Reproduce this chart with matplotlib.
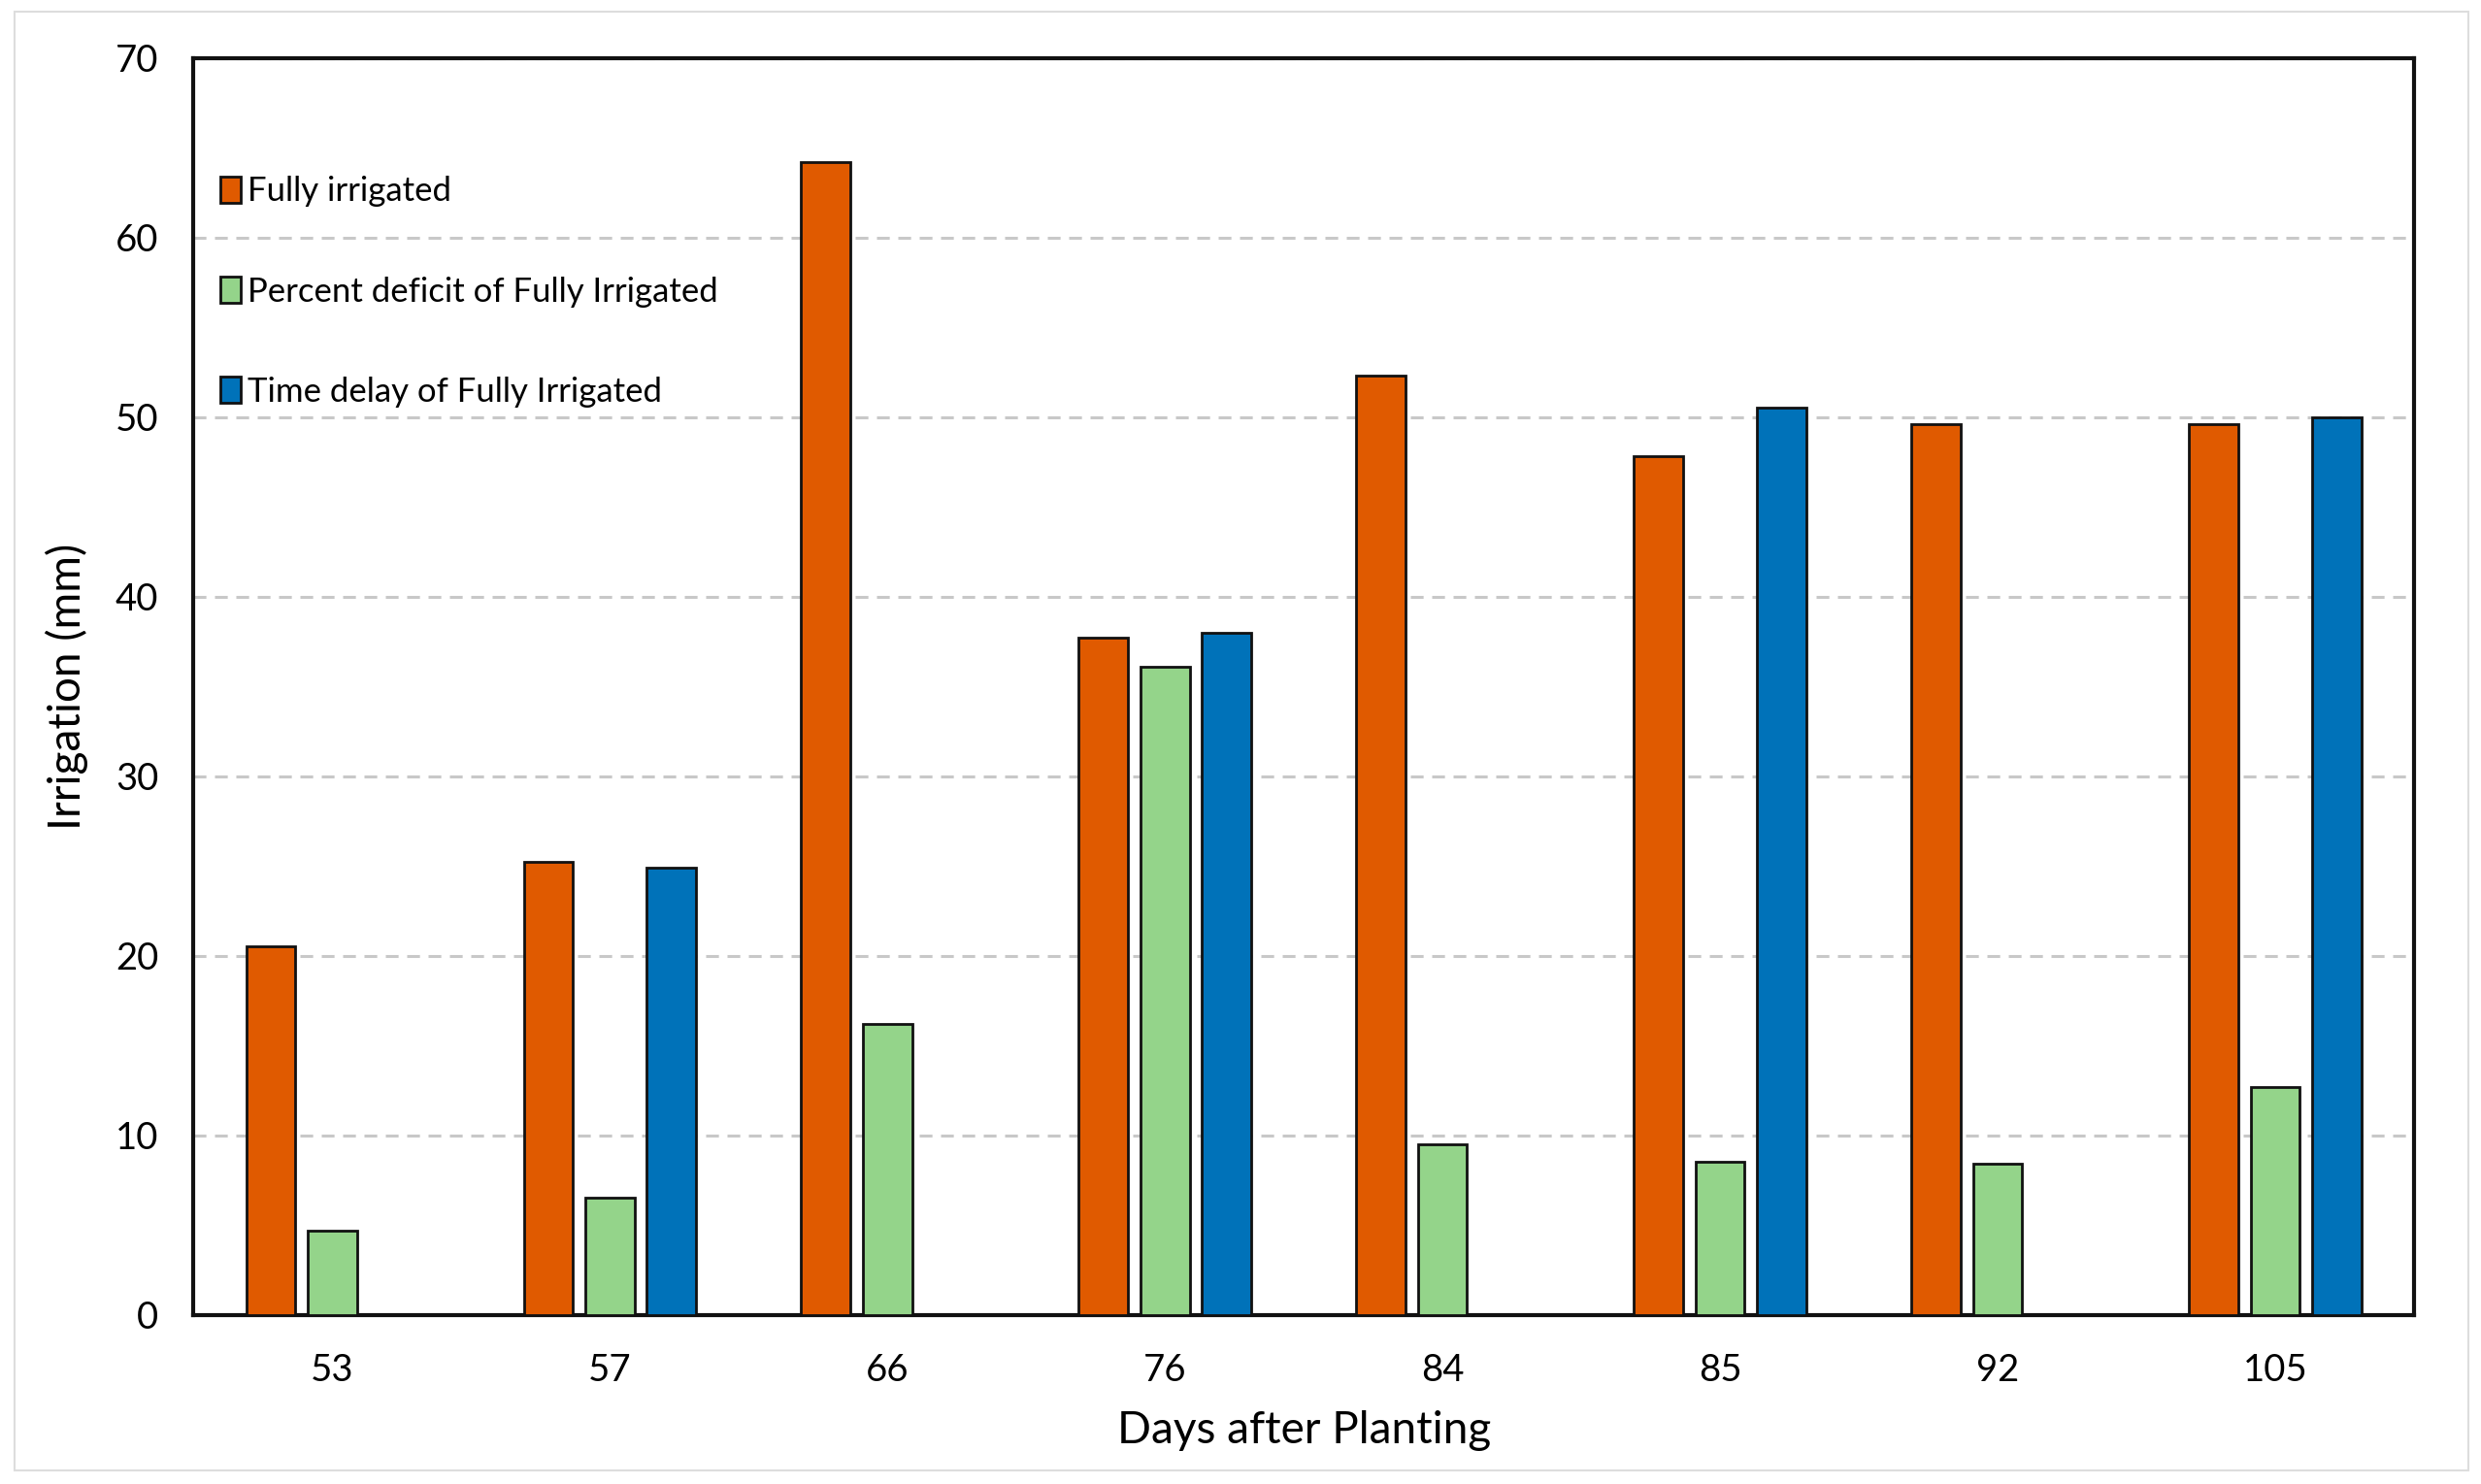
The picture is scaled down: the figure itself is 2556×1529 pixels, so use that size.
import numpy as np
import matplotlib.pyplot as plt
from matplotlib.patches import Rectangle

plt.rcParams['font.family'] = ['Lato', 'DejaVu Sans']

# Data
days = ['53', '57', '66', '76', '84', '85', '92', '105']
fully_irrigated = [20.5, 25.2, 64.2, 37.7, 52.3, 47.8, 49.6, 49.6]
percent_deficit = [4.7, 6.5, 16.2, 36.1, 9.5, 8.5, 8.4, 12.7]
time_delay = [0, 24.9, 0, 38.0, 0, 50.5, 0, 50.0]

labels = ['Fully irrigated', 'Percent deficit of Fully Irrigated',
          'Time delay of Fully Irrigated']
colors = ['#E05A00', '#94D48A', '#0072B9']

fig = plt.figure(figsize=(25.56, 15.29), dpi=100)
ax = fig.add_axes([0.078, 0.114, 0.895, 0.847])

x = np.arange(len(days))
w = 0.177
off = 0.222
for i, (vals, lab, col) in enumerate(zip([fully_irrigated, percent_deficit, time_delay],
                                          labels, colors)):
    ax.bar(x + (i - 1) * off, vals, width=w, color=col, edgecolor='#111111',
           linewidth=2.0, label=lab, zorder=3)

ax.set_xlim(-0.5, len(days) - 0.5)
ax.set_ylim(0, 70)
ax.set_yticks(range(0, 71, 10))
ax.set_xticks(x)
ax.set_xticklabels(days)
ax.tick_params(axis='both', length=0, labelsize=27.5)
ax.tick_params(axis='y', pad=26)
ax.tick_params(axis='x', pad=28)

ax.yaxis.grid(True, color='#C8C8C8', linewidth=2.2, dashes=(4.3, 2.9), zorder=0)
for s in ax.spines.values():
    s.set_linewidth(3)
    s.set_color('#111111')

ax.set_xlabel('Days after Planting', fontsize=33, labelpad=17)
ax.set_ylabel('Irrigation (mm)', fontsize=33, labelpad=20)

ax.legend(loc='upper left', bbox_to_anchor=(0.012, 0.906), frameon=False,
          fontsize=25, labelspacing=2.05, handlelength=0.62, handleheight=0.8,
          handletextpad=0.2, borderpad=0, borderaxespad=0)

# light border round the figure
fig.patches.append(Rectangle((0.006, 0.009), 0.989, 0.983, transform=fig.transFigure,
                             fill=False, edgecolor='#DDDDDD', linewidth=1.5))

plt.savefig('out.png', dpi=100)
